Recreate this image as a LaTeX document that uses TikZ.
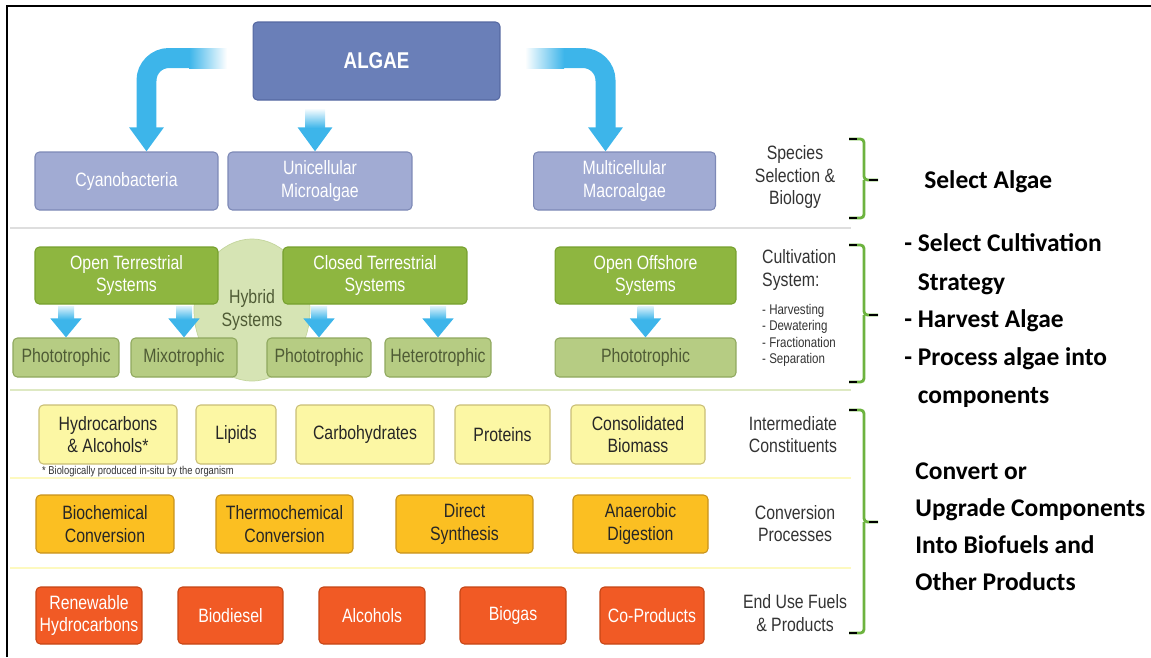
\documentclass[tikz,border=0pt]{standalone}
\usepackage{fontspec}
\setmainfont{Liberation Sans}[FakeStretch=0.82]
\newfontfamily\notefont{Carlito}
\usetikzlibrary{arrows.meta,shapes.geometric}
\definecolor{algaeblue}{HTML}{6A7FB8}
\definecolor{algaeline}{HTML}{5668A2}
\definecolor{specfill}{HTML}{A1ABD3}
\definecolor{specline}{HTML}{7D89B6}
\definecolor{arrowblue}{HTML}{3DB5EA}
\definecolor{cultfill}{HTML}{8EB640}
\definecolor{cultline}{HTML}{76A02E}
\definecolor{trophfill}{HTML}{B6CC83}
\definecolor{trophline}{HTML}{8FA85E}
\definecolor{trophtext}{HTML}{4F5B35}
\definecolor{hybfill}{HTML}{D6E4B4}
\definecolor{hybline}{HTML}{C3D59C}
\definecolor{constfill}{HTML}{FCF7A4}
\definecolor{constline}{HTML}{C9BE76}
\definecolor{convfill}{HTML}{FBBF22}
\definecolor{convline}{HTML}{C8921B}
\definecolor{endfill}{HTML}{F15A25}
\definecolor{endline}{HTML}{C54515}
\definecolor{bracegreen}{HTML}{6DB33F}
\definecolor{labelgray}{HTML}{333333}
\begin{document}
\begin{tikzpicture}[x=0.02cm, y=-0.02cm,
    box/.style={rectangle, rounded corners=2.5pt, inner sep=0pt, align=center, line width=0.6pt, font=\fontsize{11}{12.8}\selectfont},
    spec/.style={box, fill=specfill, draw=specline, text=white, minimum height=1.16cm},
    cult/.style={box, fill=cultfill, draw=cultline, text=white, minimum height=1.14cm},
    troph/.style={box, fill=trophfill, draw=trophline, text=trophtext, minimum height=0.78cm},
    constit/.style={box, fill=constfill, draw=constline, text=black!85, minimum height=1.18cm},
    conv/.style={box, fill=convfill, draw=convline, text=black!85, minimum height=1.16cm},
    enduse/.style={box, fill=endfill, draw=endline, text=white, minimum height=1.14cm},
    stage/.style={align=center, text=labelgray, font=\fontsize{11}{12.8}\selectfont},
    note/.style={anchor=base west, inner sep=0pt, font=\notefont\bfseries\fontsize{14.5}{17}\selectfont},
    bigarrow/.style={arrowblue, line width=0.4cm, rounded corners=0.45cm, -{Triangle[width=0.66cm,length=0.48cm]}},
    smallarrow/.style={arrowblue, line width=0.32cm, -{Triangle[width=0.6cm,length=0.38cm]}},
    gbrace/.style={bracegreen, line width=1.6pt, rounded corners=2pt},
    sepline/.style={line width=0.6pt}]
    \useasboundingbox (0,0) rectangle (1151,657);
    \draw [line width=1.3pt] (7,657) -- (7,6) -- (1151,6);

    % algae and species
    \node [box, fill=algaeblue, draw=algaeline, text=white, minimum width=4.94cm, minimum height=1.56cm, font=\bfseries\fontsize{13}{15}\selectfont, name=a1] at (376.5,61) {ALGAE};
    \node [spec, minimum width=3.66cm, name=s1] at (126.5,181) {Cyanobacteria};
    \node [spec, minimum width=3.68cm, name=s2] at (320,181) {Unicellular\\Microalgae};
    \node [spec, minimum width=3.64cm, name=s3] at (624.5,181) {Multicellular\\Macroalgae};
    \coordinate (l0) at (190,58);
    \coordinate (m0) at (315,109);
    \coordinate (r0) at (563,58);
    \draw [bigarrow] (l0) -| ([xshift=0.4cm]s1.north);
    \draw [bigarrow] (m0) -- (m0 |- s2.north);
    \draw [bigarrow] (r0) -| ([xshift=-0.38cm]s3.north);
    \shade [left color=arrowblue, right color=white] (189,48) rectangle (227,68);
    \shade [top color=white, bottom color=arrowblue] (305,108) rectangle (325,128);
    \shade [left color=white, right color=arrowblue] (525,48) rectangle (564,68);
    \draw [sepline, draw=black!13] (10,228) -- (851,228);

    % cultivation systems
    \node [ellipse, fill=hybfill, draw=hybline, minimum width=2.32cm, minimum height=2.84cm, inner sep=0pt, align=center, text=trophtext, font=\fontsize{11}{12.8}\selectfont, name=h1] at (252,310) {Hybrid\\Systems};
    \node [cult, minimum width=3.66cm, name=c1] at (126.5,275.5) {Open Terrestrial\\Systems};
    \node [cult, minimum width=3.68cm, name=c2] at (375,275.5) {Closed Terrestrial\\Systems};
    \node [cult, minimum width=3.62cm, name=c3] at (645.5,275.5) {Open Offshore\\Systems};
    \node [troph, minimum width=2.12cm, name=p1] at (66,357.5) {Phototrophic};
    \node [troph, minimum width=2.12cm, name=p2] at (184,357.5) {Mixotrophic};
    \node [troph, minimum width=2.08cm, name=p3] at (319,357.5) {Phototrophic};
    \node [troph, minimum width=2.12cm, name=p4] at (438,357.5) {Heterotrophic};
    \node [troph, minimum width=3.62cm, name=p5] at (645.5,357.5) {Phototrophic};
    \foreach \a/\b in {c1/p1, c1/p2, c2/p3, c2/p4, c3/p5} {
        \coordinate (t0) at (\a.south -| \b.north);
        \draw [smallarrow] ([yshift=-0.04cm]t0) -- (\b.north);
        \shade [top color=arrowblue!20, bottom color=arrowblue] ([xshift=-0.16cm,yshift=-0.04cm]t0) rectangle ([xshift=0.16cm,yshift=-0.3cm]t0);
    }
    \draw [sepline, draw=hybfill!80] (10,390) -- (851,390);

    % intermediate constituents
    \node [constit, minimum width=2.76cm, name=m1] at (108,434.5) {Hydrocarbons\\\& Alcohols*};
    \node [constit, minimum width=1.6cm, name=m2] at (236,434.5) {Lipids};
    \node [constit, minimum width=2.76cm, name=m3] at (365,434.5) {Carbohydrates};
    \node [constit, minimum width=1.9cm, name=m4] at (502.5,434.5) {Proteins};
    \node [constit, minimum width=2.68cm, name=m5] at (638,434.5) {Consolidated\\Biomass};
    \node [anchor=west, text=labelgray, font=\fontsize{6.5}{7}\selectfont, name=f1] at (36,472) {* Biologically produced in-situ by the organism};
    \draw [sepline, draw=constfill!70] (10,478) -- (851,478);

    % conversion processes
    \node [conv, minimum width=2.76cm, name=v1] at (105,524) {Biochemical\\Conversion};
    \node [conv, minimum width=2.74cm, name=v2] at (284.5,524) {Thermochemical\\Conversion};
    \node [conv, minimum width=2.74cm, name=v3] at (464.5,524) {Direct\\Synthesis};
    \node [conv, minimum width=2.7cm, name=v4] at (640.5,524) {Anaerobic\\Digestion};
    \draw [sepline, draw=constfill!70] (10,568) -- (851,568);

    % end use fuels
    \node [enduse, minimum width=2.12cm, name=e1] at (89,615.5) {Renewable\\Hydrocarbons};
    \node [enduse, minimum width=2.1cm, name=e2] at (230.5,615.5) {Biodiesel};
    \node [enduse, minimum width=2.12cm, name=e3] at (372,615.5) {Alcohols};
    \node [enduse, minimum width=2.12cm, name=e4] at (513,615.5) {Biogas};
    \node [enduse, minimum width=2.08cm, name=e5] at (652,615.5) {Co-Products};

    % stage labels
    \node [stage, name=l1] at (795,177) {Species\\Selection \&\\Biology};
    \node [stage, anchor=west, align=left, name=l2] at (756,270) {Cultivation\\System:};
    \node [stage, anchor=west, align=left, font=\fontsize{8}{9.4}\selectfont, name=l3] at (756,335.5) {- Harvesting\\- Dewatering\\- Fractionation\\- Separation};
    \node [stage, name=l4] at (793,434.5) {Intermediate\\Constituents};
    \node [stage, name=l5] at (795,523.5) {Conversion\\Processes};
    \node [stage, name=l6] at (795,613) {End Use Fuels\\\& Products};

    % braces
    \foreach \t/\m/\b in {139/180/218, 245/315/382, 410/522/633} {
        \draw [gbrace] (849,\t) -| (864,\m) -- (878,\m);
        \draw [gbrace] (864,\m) |- (849,\b);
        \draw [line width=1.6pt] (849,\t) -- (857,\t) (849,\b) -- (857,\b) (869,\m) -- (878,\m);
    }

    % notes on the right
    \node [note, name=n1] at (924,188) {Select Algae};
    \node [note, name=n2] at (904,251) {- Select Cultivation};
    \node [note, name=n3] at (904,290) {\phantom{- }Strategy};
    \node [note, name=n4] at (904,327) {- Harvest Algae};
    \node [note, name=n5] at (904,365) {- Process algae into};
    \node [note, name=n6] at (904,403) {\phantom{- }components};
    \node [note, name=n7] at (915,479) {Convert or};
    \node [note, name=n8] at (915,516) {Upgrade Components};
    \node [note, name=n9] at (915,553) {Into Biofuels and};
    \node [note, name=n10] at (915,590) {Other Products};
\end{tikzpicture}
\end{document}
